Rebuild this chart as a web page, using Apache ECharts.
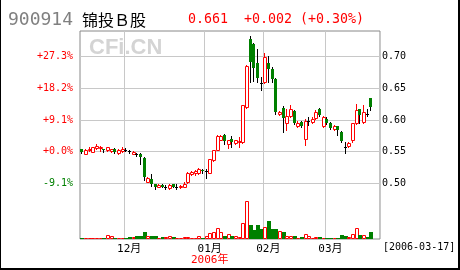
<!DOCTYPE html>
<html><head><meta charset="utf-8">
<script src="https://cdn.jsdelivr.net/npm/echarts@6/dist/echarts.min.js"></script>
<style>html,body{margin:0;padding:0;background:#fff}#c{width:460px;height:270px}</style>
</head><body><div id="c"></div>
<script>
const stockCode = '900914';
const stockName = '锦投Ｂ股';
const quoteText = '0.661  +0.002 (+0.30%)';
const dateText = '[2006-03-17]';
const watermark = 'CFi.CN';

const dates = [
 '11-15','11-16','11-17','11-18','11-21','11-22','11-23','11-24','11-25','11-28','11-29','11-30',
 '12-01','12-02','12-05','12-06','12-07','12-08','12-09','12-12','12-13','12-14','12-15','12-16','12-19','12-20','12-21','12-22','12-23','12-26','12-27','12-28','12-29','12-30',
 '01-04','01-05','01-06','01-09','01-10','01-11','01-12','01-13','01-16','01-17','01-18','01-19','01-20','01-23','01-24','01-25',
 '02-06','02-07','02-08','02-09','02-10','02-13','02-14','02-15','02-16','02-17','02-20','02-21','02-22','02-23','02-24','02-27','02-28',
 '03-01','03-02','03-03','03-06','03-07','03-08','03-09','03-10','03-13','03-14','03-15','03-16','03-17'
];
const emptySlots = ['', ''];

const openP = [0.554,0.547,0.552,0.550,0.556,0.557,0.554,0.552,0.551,0.554,
 0.548,0.551,0.553,0.5505,0.547,0.546,0.547,0.540,0.503,0.507,
 0.499,0.495,0.498,0.495,0.493,0.499,0.495,0.494,0.495,0.502,
 0.515,0.516,0.517,0.521,0.519,0.517,0.537,0.553,0.569,0.576,
 0.562,0.570,0.563,0.565,0.566,0.620,0.728,0.719,0.690,0.659,
 0.660,0.689,0.681,0.665,0.609,0.619,0.595,0.606,0.614,0.590,
 0.597,0.570,0.598,0.597,0.603,0.618,0.590,0.601,0.596,0.586,
 0.590,0.581,0.558,0.559,0.568,0.595,0.617,0.597,0.610,0.634];
const closeP = [0.549,0.553,0.554,0.557,0.559,0.558,0.552,0.557,0.554,0.549,
 0.553,0.555,0.553,0.5505,0.550,0.546,0.541,0.510,0.508,0.500,
 0.494,0.498,0.495,0.495,0.498,0.495,0.495,0.496,0.500,0.517,
 0.518,0.519,0.523,0.519,0.519,0.538,0.552,0.575,0.575,0.567,
 0.568,0.565,0.568,0.567,0.623,0.685,0.692,0.682,0.666,0.659,
 0.700,0.681,0.665,0.612,0.613,0.603,0.606,0.617,0.595,0.596,
 0.591,0.598,0.598,0.602,0.613,0.608,0.605,0.596,0.587,0.591,
 0.584,0.567,0.558,0.564,0.595,0.616,0.608,0.613,0.610,0.620];
const lowP = [0.548,0.546,0.551,0.549,0.555,0.551,0.550,0.551,0.550,0.548,
 0.547,0.549,0.551,0.548,0.546,0.543,0.530,0.5055,0.502,0.496,
 0.492,0.494,0.494,0.491,0.492,0.494,0.491,0.493,0.494,0.501,
 0.513,0.514,0.515,0.517,0.509,0.516,0.536,0.552,0.568,0.562,
 0.556,0.558,0.562,0.558,0.564,0.619,0.660,0.661,0.660,0.648,
 0.659,0.660,0.660,0.610,0.608,0.581,0.585,0.604,0.593,0.589,
 0.589,0.561,0.592,0.596,0.602,0.607,0.589,0.593,0.586,0.585,
 0.576,0.566,0.548,0.558,0.566,0.594,0.596,0.596,0.607,0.615];
const highP = [0.555,0.554,0.557,0.558,0.562,0.559,0.555,0.558,0.555,0.556,
 0.554,0.557,0.556,0.552,0.551,0.548,0.548,0.541,0.510,0.515,
 0.500,0.499,0.499,0.498,0.499,0.500,0.499,0.497,0.502,0.518,
 0.520,0.522,0.524,0.523,0.523,0.539,0.553,0.577,0.577,0.578,
 0.569,0.575,0.569,0.574,0.624,0.686,0.732,0.722,0.712,0.667,
 0.705,0.701,0.683,0.666,0.614,0.622,0.617,0.624,0.615,0.598,
 0.598,0.601,0.605,0.604,0.616,0.619,0.606,0.604,0.597,0.592,
 0.591,0.582,0.566,0.565,0.596,0.625,0.618,0.623,0.618,0.635];
const volume = [10,10,10,10,10,10,10,43,27,10,
 10,10,10,20,20,33,33,73,33,33,
 33,10,20,20,33,20,10,10,20,20,
 10,10,33,10,33,60,67,110,67,33,
 50,33,33,20,160,377,137,93,143,100,
 120,177,100,103,80,73,33,33,33,10,
 20,53,33,13,20,20,10,10,10,10,
 10,43,33,20,53,110,43,43,20,73];

const priceTicks = [0.50, 0.55, 0.60, 0.65, 0.70];
const priceLabels = ['0.50', '0.55', '0.60', '0.65', '0.70'];
const pctLabels = ['-9.1%', '+0.0%', '+9.1%', '+18.2%', '+27.3%'];
const monthStarts = [12, 34, 50, 67];
const monthLabels = ['12月', '01月', '02月', '03月'];
const yearLabel = '2006年';
const yearAt = 34;

const MONO = "'DejaVu Sans Mono', 'Noto Sans CJK SC', monospace";
const categories = dates.concat(emptySlots);
const tickIdx = v => priceTicks.findIndex(t => Math.abs(t - v) < 1e-6);

const candleData = dates.map((d, i) => [i, openP[i], closeP[i], lowP[i], highP[i]]);
const volData = dates.map((d, i) => {
  let dir = closeP[i] > openP[i] ? 1 : (closeP[i] < openP[i] ? -1 : (i > 0 && closeP[i] >= closeP[i-1] ? 1 : -1));
  return [i, volume[i], dir];
});

function renderCandle(params, api) {
  const i = api.value(0), o = api.value(1), c = api.value(2), l = api.value(3), h = api.value(4);
  const pO = api.coord([i, o]), pC = api.coord([i, c]), pH = api.coord([i, h]), pL = api.coord([i, l]);
  const cx = Math.floor(pO[0]) + 0.5;
  const yO = Math.round(pO[1]), yC = Math.round(pC[1]), yH = Math.round(pH[1]), yL = Math.round(pL[1]);
  const top = Math.min(yO, yC), bot = Math.max(yO, yC);
  const kids = [];
  if (c > o) {
    kids.push({type: 'line', shape: {x1: cx, y1: yH, x2: cx, y2: yL + 1}, style: {stroke: '#ff0000', lineWidth: 1}});
    kids.push({type: 'rect', shape: {x: cx - 1, y: top + 0.5, width: 3, height: Math.max(bot - top, 1)},
      style: {fill: '#ffffff', stroke: '#ff0000', lineWidth: 1}});
  } else if (c < o) {
    kids.push({type: 'line', shape: {x1: cx, y1: yH, x2: cx, y2: yL + 1}, style: {stroke: '#000000', lineWidth: 1}});
    kids.push({type: 'rect', shape: {x: cx - 1.5, y: top, width: 3, height: Math.max(bot - top, 1)},
      style: {fill: '#008000'}});
  } else {
    kids.push({type: 'line', shape: {x1: cx, y1: yH, x2: cx, y2: yL + 1}, style: {stroke: '#000000', lineWidth: 1}});
    kids.push({type: 'line', shape: {x1: cx - 1.5, y1: yO + 0.5, x2: cx + 1.5, y2: yO + 0.5}, style: {stroke: '#000000', lineWidth: 1}});
  }
  return {type: 'group', children: kids};
}

function renderVol(params, api) {
  const i = api.value(0), v = api.value(1), dir = api.value(2);
  const p = api.coord([i, v]), p0 = api.coord([i, 0]);
  const cx = Math.floor(p[0]) + 0.5;
  const yT = Math.round(p[1]), yB = Math.round(p0[1]);
  if (dir > 0) {
    return {type: 'rect', shape: {x: cx - 1, y: yT + 0.5, width: 3, height: Math.max(yB - 1 - yT, 0)},
      style: {fill: '#ffffff', stroke: '#ff0000', lineWidth: 1}};
  }
  return {type: 'rect', shape: {x: cx - 1.5, y: yT, width: 4, height: Math.max(yB - yT, 1)}, style: {fill: '#008000'}};
}

const chart = echarts.init(document.getElementById('c'), null, {renderer: 'canvas'});
chart.setOption({
  animation: false,
  backgroundColor: '#ffffff',
  grid: [
    {left: 80, right: 80, top: 31, bottom: 31, show: true, borderColor: '#888888', borderWidth: 1, backgroundColor: 'transparent'},
    {left: 80, right: 80, top: 56.5, bottom: 86.5}
  ],
  xAxis: [
    {type: 'category', gridIndex: 0, data: categories, boundaryGap: true,
     axisLine: {show: false}, axisTick: {show: false},
     axisLabel: {interval: (idx) => monthStarts.indexOf(idx) >= 0, margin: 4, fontSize: 11, fontFamily: MONO, color: '#000',
       padding: [0, 0, 0, 7], lineHeight: 11.5,
       formatter: (val, idx) => { const k = monthStarts.indexOf(idx); if (k < 0) return ''; return idx === yearAt ? monthLabels[k] + '\n{y|' + yearLabel + '}' : monthLabels[k]; },
       rich: {y: {color: '#ff0000', fontSize: 11, fontFamily: MONO, lineHeight: 11.5}}},
     splitLine: {show: true, interval: (idx) => monthStarts.indexOf(idx) >= 0, lineStyle: {color: '#c8c8c8', width: 1}}},
    {type: 'category', gridIndex: 1, data: categories, boundaryGap: true, show: false}
  ],
  yAxis: [
    {type: 'value', gridIndex: 0, min: 0, max: 2080, show: false, splitLine: {show: false}},
    {type: 'value', gridIndex: 1, position: 'left', min: 0.5, max: 0.7, interval: 0.05,
     axisLine: {show: false}, axisTick: {show: false}, splitLine: {show: false},
     axisLabel: {margin: 7, fontSize: 10, fontFamily: MONO,
       formatter: v => pctLabels[tickIdx(v)] || '',
       color: v => v < 0.55 - 1e-6 ? '#008000' : '#ff0000'}},
    {type: 'value', gridIndex: 1, position: 'right', min: 0.5, max: 0.7, interval: 0.05,
     axisLine: {show: false}, axisTick: {show: false},
     splitLine: {show: true, lineStyle: {color: '#c8c8c8', width: 1}},
     axisLabel: {margin: 2, fontSize: 10, fontFamily: MONO, color: '#000000',
       formatter: v => priceLabels[tickIdx(v)] || ''}}
  ],
  graphic: [
    {type: 'text', left: 89, top: 37, z: 0, style: {text: watermark, fill: '#d4d4d4', font: 'bold 22px "Liberation Sans", Arial, sans-serif'}},
    {type: 'text', x: 8, y: 20, style: {text: stockCode, fill: '#808080', font: '18px ' + MONO, verticalAlign: 'middle', align: 'left'}},
    {type: 'text', x: 82, y: 20, style: {text: stockName, fill: '#000000', font: '16px "Noto Sans CJK SC"', verticalAlign: 'middle', align: 'left'}},
    {type: 'text', x: 188, y: 20, style: {text: quoteText, fill: '#ff0000', font: '13.3px ' + MONO, verticalAlign: 'middle', align: 'left'}},
    {type: 'text', x: 383, y: 247, style: {text: dateText, fill: '#000000', font: '10px ' + MONO, verticalAlign: 'middle', align: 'left'}},
    {type: 'rect', shape: {x: 0, y: 0, width: 1, height: 270}, style: {fill: '#000000'}},
    {type: 'rect', shape: {x: 458, y: 0, width: 2, height: 270}, style: {fill: '#000000'}},
    {type: 'rect', shape: {x: 0, y: 268, width: 460, height: 2}, style: {fill: '#000000'}}
  ],
  series: [
    {type: 'custom', name: 'volume', xAxisIndex: 0, yAxisIndex: 0, renderItem: renderVol, data: volData,
     encode: {x: 0, y: 1}, clip: false, z: 3},
    {type: 'custom', name: 'kline', xAxisIndex: 1, yAxisIndex: 2, renderItem: renderCandle, data: candleData,
     encode: {x: 0, y: [1, 2, 3, 4]}, clip: false, z: 4}
  ]
});
</script>
</body></html>
